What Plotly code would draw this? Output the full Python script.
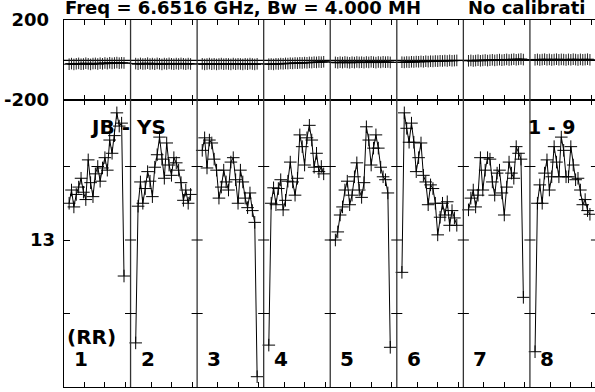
import numpy as np
import plotly.graph_objects as go

# ---------------- data ----------------
seg_len = 3.25                      # time units per scan window
n_seg = 8
sample_offsets = np.linspace(0.25, 2.93, 24)   # sample times inside each window
tick_offsets = [1, 2, 3]
segment_labels = ["1", "2", "3", "4", "5", "6", "7", "8"]

amp_seg1 = [13.50, 13.68, 13.45, 13.62, 13.72, 13.84, 13.65, 13.55, 14.09, 13.78, 13.59, 13.90,
            14.00, 13.80, 13.98, 14.12, 13.95, 14.36, 14.18, 14.42, 14.73, 14.55, 14.59, 12.51]
amp_seg2 = [11.60, 13.46, 13.79, 13.50, 13.70, 13.93, 13.80, 13.59, 13.99, 14.16, 14.40, 14.10,
            13.84, 14.32, 14.02, 13.88, 14.12, 14.05, 13.95, 13.78, 13.54, 13.68, 13.50, 13.62]
amp_seg3 = [14.22, 14.39, 13.98, 14.36, 14.32, 14.10, 13.95, 13.57, 13.72, 13.95, 13.79, 13.68,
            14.06, 14.12, 13.82, 13.50, 13.95, 13.79, 13.57, 13.44, 13.64, 13.40, 13.24, 11.14]
amp_seg4 = [11.57, 13.50, 13.71, 13.48, 13.70, 13.82, 13.41, 13.54, 13.80, 14.06, 13.79, 13.61,
            13.84, 14.43, 14.27, 14.02, 14.39, 14.56, 14.36, 13.99, 14.18, 13.93, 14.00, 13.90]
amp_seg5 = [13.00, 13.11, 13.34, 13.45, 13.68, 13.80, 13.48, 13.61, 13.86, 14.05, 13.68, 13.58,
            13.78, 14.54, 14.36, 14.02, 14.25, 14.43, 14.25, 13.99, 13.86, 13.82, 13.64, 11.54]
amp_seg6 = [12.56, 14.73, 14.52, 14.33, 14.59, 14.33, 13.93, 14.12, 14.32, 13.88, 13.79, 13.48,
            13.75, 13.70, 13.50, 13.07, 13.31, 13.50, 13.34, 13.52, 13.20, 13.40, 13.30, 13.20]
amp_seg7 = [13.41, 13.57, 13.68, 13.45, 13.61, 14.12, 13.68, 13.95, 14.12, 14.10, 13.79, 13.61,
            13.91, 13.95, 13.64, 13.34, 13.72, 14.06, 13.91, 13.84, 14.27, 14.18, 14.10, 12.22]
amp_seg8 = [11.48, 13.50, 13.75, 13.50, 13.91, 14.09, 13.68, 13.86, 14.27, 14.06, 13.86, 14.40,
            14.22, 13.86, 13.86, 14.27, 14.02, 13.82, 13.84, 13.68, 13.48, 13.55, 13.40, 13.35]

ph_seg1 = [-21, -18, -22, -19, -17, -21, -20, -16, -19, -22, -18, -17,
           -20, -16, -19, -15, -18, -14, -17, -15, -13, -16, -14, -15]
ph_seg2 = [-18, -21, -17, -20, -19, -16, -20, -18, -21, -17, -19, -22,
           -18, -20, -17, -19, -21, -18, -20, -17, -19, -21, -18, -20]
ph_seg3 = [-19, -22, -20, -18, -21, -19, -22, -20, -18, -21, -19, -20,
           -22, -18, -21, -19, -20, -22, -19, -21, -18, -20, -22, -19]
ph_seg4 = [-21, -20, -22, -19, -20, -18, -19, -17, -18, -16, -17, -15,
           -16, -14, -15, -13, -14, -12, -13, -11, -12, -10, -11, -9]
ph_seg5 = [-12, -14, -11, -13, -10, -12, -14, -11, -13, -10, -12, -11,
           -13, -10, -12, -9, -11, -13, -10, -12, -9, -11, -10, -12]
ph_seg6 = [-11, -12, -10, -11, -9, -10, -8, -9, -7, -9, -6, -8,
           -6, -7, -5, -6, -4, -5, -3, -5, -2, -4, -3, -2]
ph_seg7 = [-4, -2, -5, -3, -1, -4, -2, 0, -3, -1, 1, -2,
           0, 2, -1, 1, 3, 0, 2, 4, 1, 3, 5, 2]
ph_seg8 = [1, 3, 0, 2, 4, 1, 3, 0, 2, 4, 1, 3,
           2, 0, 3, 1, 4, 2, 0, 3, 1, 2, 4, 1]
phase_err = 29
ref_phase = -2

amp_segments = [amp_seg1, amp_seg2, amp_seg3, amp_seg4, amp_seg5, amp_seg6, amp_seg7, amp_seg8]
ph_segments = [ph_seg1, ph_seg2, ph_seg3, ph_seg4, ph_seg5, ph_seg6, ph_seg7, ph_seg8]

amp_ticks = [11, 12, 13, 14]
amp_ticktext = ["11", "", "13", ""]
ph_ticks = [-200, 200]
ph_ticktext = ["-200", "200"]

# ---------------- geometry ----------------
W, H = 595, 392
L, T, B = 64, 20, 5
plot_h = H - T - B
split = 287 / plot_h
x_max = 531 / 20.48
amp_range = [11, 11 + 287 / 73.5]


def px_x(px):
    return (px - L) / (W - L)


def px_y(py):
    return (H - B - py) / plot_h


FONT = "DejaVu Sans"

# build traces
amp_x, amp_y, ph_x, ph_y = [], [], [], []
for k in range(n_seg):
    xs = k * seg_len + sample_offsets
    amp_x += list(xs) + [None]
    amp_y += amp_segments[k] + [None]
    ph_x += list(xs)
    ph_y += ph_segments[k]

fig = go.Figure()
fig.add_trace(go.Scatter(
    x=amp_x, y=amp_y, mode="lines+markers", xaxis="x", yaxis="y",
    line=dict(color="black", width=1), connectgaps=False,
    marker=dict(symbol="cross-thin", size=9, line=dict(color="black", width=1)),
    cliponaxis=True))
fig.add_trace(go.Scatter(
    x=[0, x_max], y=[ref_phase, ref_phase], mode="lines", xaxis="x2", yaxis="y2",
    line=dict(color="black", width=1.2)))
fig.add_trace(go.Scatter(
    x=ph_x, y=ph_y, mode="lines+markers", xaxis="x2", yaxis="y2",
    line=dict(color="black", width=1),
    marker=dict(symbol="line-ew", size=9, line=dict(color="black", width=1)),
    error_y=dict(type="constant", value=phase_err, width=0, thickness=1, color="#222")))

tickvals_x = [k * seg_len + t for k in range(n_seg) for t in tick_offsets]

xcommon = dict(range=[0, x_max], showgrid=False, zeroline=False, showline=True,
               linecolor="black", mirror="ticks", ticks="inside",
               ticklen=5, tickwidth=1, tickcolor="black", tickvals=tickvals_x,
               showticklabels=False, automargin=False)

fig.update_layout(
    width=W, height=H,
    margin=dict(l=L, r=0, t=T, b=B, autoexpand=False),
    plot_bgcolor="white", paper_bgcolor="white",
    showlegend=False,
    xaxis=dict(domain=[0, 1], anchor="y", linewidth=1.3, **xcommon),
    xaxis2=dict(domain=[0, 1], anchor="y2", matches="x", linewidth=1.0, **xcommon),
    yaxis=dict(domain=[0, split], range=amp_range, showgrid=False, zeroline=False,
               showline=True, linecolor="black", linewidth=1.3, ticks="inside",
               ticklen=6, tickcolor="black", tickvals=amp_ticks, ticktext=amp_ticktext,
               automargin=False, ticklabelstandoff=4,
               tickfont=dict(family=FONT, size=18, color="black", weight="bold")),
    yaxis2=dict(domain=[split, 1], range=[-200, 200], showgrid=False, zeroline=False,
                showline=True, linecolor="black", linewidth=1.3, ticks="",
                tickvals=ph_ticks, ticktext=ph_ticktext, automargin=False,
                ticklabelstandoff=10,
                tickfont=dict(family=FONT, size=18, color="black", weight="bold")),
)

shapes = []
for k in range(1, n_seg + 1):
    xb = k * seg_len
    shapes.append(dict(type="line", xref="x", yref="paper", x0=xb, x1=xb, y0=0, y1=1,
                       line=dict(color="#333", width=1.3)))
    for v in [12, 13, 14]:
        shapes.append(dict(type="line", xref="x", yref="y", x0=xb - 0.27, x1=xb + 0.27,
                           y0=v, y1=v, line=dict(color="black", width=1)))
fig.update_layout(shapes=shapes)

ann = []


def add_text(text, px, py, size, xanchor="left"):
    ann.append(dict(text=text, x=px_x(px), y=px_y(py), xref="paper", yref="paper",
                    xanchor=xanchor, yanchor="middle", showarrow=False,
                    font=dict(family=FONT, size=size, color="black", weight="bold")))


add_text("Freq = 6.6516 GHz, Bw = 4.000 MH", 63, 7.5, 18)
add_text("No calibrati", 466, 7.5, 18)
add_text("JB - YS", 128, 127, 20, xanchor="center")
add_text("1 - 9", 526, 127, 19)
add_text("(RR)", 65, 337, 20)
for k, lab in enumerate(segment_labels):
    add_text(lab, L + k * 66.57 + 8, 359, 20)
fig.update_layout(annotations=ann)

fig.write_html("out.html", config={"displayModeBar": False, "staticPlot": True},
               post_script="document.body.style.margin='0';")
